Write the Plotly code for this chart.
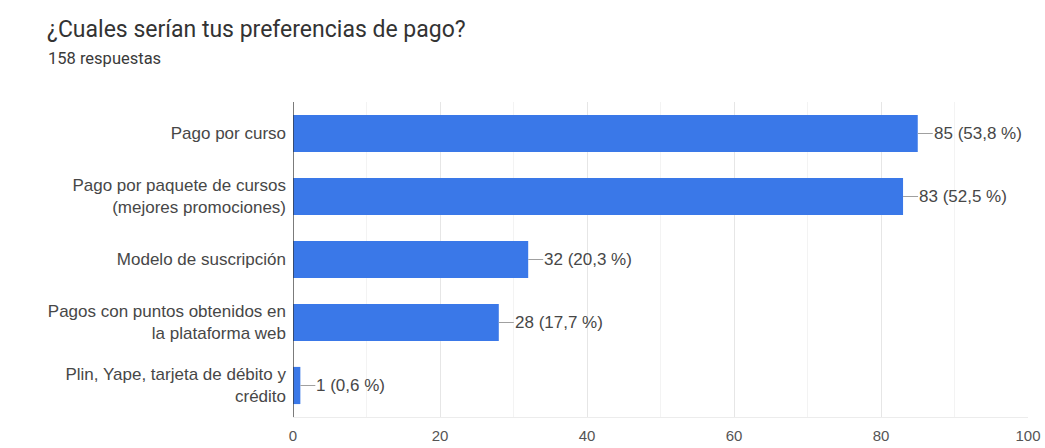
import plotly.graph_objects as go

# Survey data
categories = [
    "Pago por curso",
    "Pago por paquete de cursos<br>(mejores promociones)",
    "Modelo de suscripción",
    "Pagos con puntos obtenidos en<br>la plataforma web",
    "Plin, Yape, tarjeta de débito y<br>crédito",
]
counts = [85, 83, 32, 28, 1]
percent_labels = ["53,8 %", "52,5 %", "20,3 %", "17,7 %", "0,6 %"]
x_ticks = [0, 20, 40, 60, 80, 100]

BAR_COLOR = "#3a78e8"
TEXT_COLOR = "#474747"
FONT = "Liberation Sans, Arial, sans-serif"

W, H = 1045, 448
M_L, M_R, M_T, M_B = 293, 17, 102, 31
PLOT_W = W - M_L - M_R
PLOT_H = H - M_T - M_B


def px_to_paper(px, py):
    """Convert page pixel coordinates into plot-area paper coordinates."""
    return (px - M_L) / PLOT_W, (H - M_B - py) / PLOT_H


fig = go.Figure(
    go.Bar(
        x=counts,
        y=categories,
        orientation="h",
        marker=dict(color=BAR_COLOR, line=dict(width=0)),
        hoverinfo="skip",
    )
)

shapes = []
annotations = []
for cat, n, pct in zip(categories, counts, percent_labels):
    # short connector from the bar end to the value label
    shapes.append(dict(
        type="line", xref="x", yref="y",
        xsizemode="pixel", xanchor=n, x0=0, x1=15,
        y0=cat, y1=cat,
        line=dict(color="#a0a0a0", width=1),
    ))
    annotations.append(dict(
        x=n, y=cat, xref="x", yref="y",
        text=f"{n} ({pct})", showarrow=False,
        xanchor="left", xshift=14,
        font=dict(family=FONT, size=17, color=TEXT_COLOR),
    ))

tx, ty = px_to_paper(45, 30)
sx, sy = px_to_paper(46, 58)
annotations += [
    dict(x=tx, y=ty, xref="paper", yref="paper", text="¿Cuales serían tus preferencias de pago?",
         showarrow=False, xanchor="left", yanchor="middle",
         font=dict(family="Roboto, Arial, sans-serif", size=23, color="#333333")),
    dict(x=sx, y=sy, xref="paper", yref="paper", text="158 respuestas",
         showarrow=False, xanchor="left", yanchor="middle",
         font=dict(family="Roboto, Arial, sans-serif", size=16.5, color="#3a3a3a")),
]

# vertical baseline at zero
shapes.append(dict(type="line", xref="x", yref="paper", x0=0, x1=0, y0=0, y1=1,
                   line=dict(color="#333333", width=1.3)))

fig.update_layout(
    width=W, height=H,
    margin=dict(l=M_L, r=M_R, t=M_T, b=M_B, autoexpand=False),
    plot_bgcolor="white", paper_bgcolor="white",
    bargap=0.41,
    showlegend=False,
    shapes=shapes,
    annotations=annotations,
    font=dict(family=FONT, size=12, color=TEXT_COLOR),
    xaxis=dict(
        range=[0, 100],
        tickvals=x_ticks,
        showgrid=True, gridcolor="#e6e6e6", gridwidth=1,
        minor=dict(dtick=10, showgrid=True, gridcolor="#f3f3f3"),
        zeroline=False, showline=True, linecolor="#ececec", linewidth=1,
        tickfont=dict(family=FONT, size=15, color="#555555"),
        ticks="", ticklen=0, ticklabelstandoff=5,
        automargin=False,
        fixedrange=True,
    ),
    yaxis=dict(
        autorange="reversed",
        showgrid=False, zeroline=False, showline=False,
        ticks="", ticklabelstandoff=6,
        tickfont=dict(family=FONT, size=17, color=TEXT_COLOR),
        automargin=False,
        fixedrange=True,
    ),
)

fig.write_html("out.html", config={"displayModeBar": False})
